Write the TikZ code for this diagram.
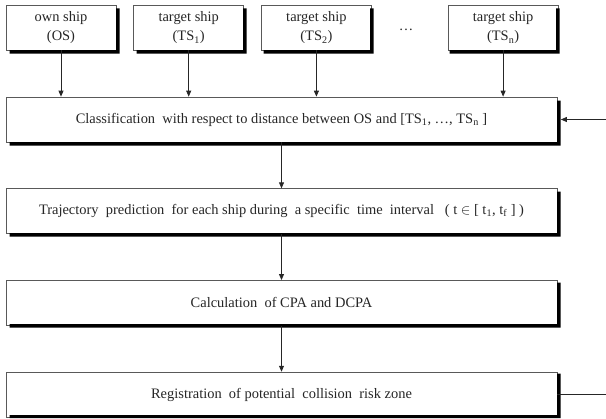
\documentclass[tikz,border=0pt]{standalone}
\usepackage{fontspec}
\setmainfont{Liberation Serif}
\usetikzlibrary{arrows.meta, positioning}

\begin{document}
\begin{tikzpicture}[x=1bp, y=1bp, node distance=46bp and 17bp]

    % Define style for different elements
    \tikzstyle{ship} = [rectangle, minimum width=110bp, minimum height=45bp, align=center, draw=black!65, line width=0.7bp, fill=white, text=black!85, font=\fontsize{14.5}{20}\selectfont]
    \tikzstyle{stage} = [rectangle, minimum width=551bp, minimum height=45bp, text centered, draw=black!65, line width=0.7bp, fill=white, text=black!85, font=\fontsize{14.5}{20}\selectfont]
    \tikzstyle{arrow} = [black!85, line width=0.8bp, ->, >={Triangle[length=6bp, width=5bp]}]

    \useasboundingbox (0,0) rectangle (606,418);

    % Place nodes
    \node (os) [ship] at (61,390.5) {own ship\\(OS)};
    \node (ts1) [ship, right=of os] {target ship\\(TS\textsubscript{1})};
    \node (ts2) [ship, right=of ts1] {target ship\\(TS\textsubscript{2})};
    \node (tsn) [ship, right=76bp of ts2] {target ship\\(TS\textsubscript{n})};
    \node (dots) [text=black!85, font=\fontsize{14.5}{20}\selectfont] at (406,388) {\ldots};
    \node (classify) [stage] at (281.5,298.5) {Classification\ \ with respect to distance between OS and [TS\textsubscript{1}, \ldots, TS\textsubscript{n} ]};
    \node (predict) [stage, below=of classify] {Trajectory\ \ prediction\ \ for each ship during\ \ a specific\ \ time\ \ interval\ \ \ ( t $\in$ [ t\textsubscript{1}, t\textsubscript{f} ] )};
    \node (cpa) [stage, below=of predict] {Calculation\ \ of CPA and DCPA};
    \node (zone) [stage, below=of cpa] {Registration\ \ of potential\ \ collision\ \ risk zone};
    \coordinate (loop) at ([xshift=60bp]zone.east);

    % Shadows on the right and bottom edges
    \foreach \r/\s/\l in {116/119.5/9.5, 243/246.5/136.5, 370/373.5/263.5, 556/559.5/449.5}
        \fill [black] (\r,364.5) rectangle (\s,409.5) (\l,364.5) rectangle (\s,368);
    \foreach \b/\c/\t in {276/272.5/317.5, 185/181.5/226.5, 94/90.5/135.5, 3/0/44.5}
        \fill [black] (557,\c) rectangle (560.5,\t) (9.5,\c) rectangle (560.5,\b);

    % Draw arrows
    \draw [arrow] (os) -- (os |- classify.north);
    \draw [arrow] (ts1) -- (ts1 |- classify.north);
    \draw [arrow] (ts2) -- (ts2 |- classify.north);
    \draw [arrow] (tsn) -- (tsn |- classify.north);
    \draw [arrow] (classify) -- (predict);
    \draw [arrow] (predict) -- (cpa);
    \draw [arrow] (cpa) -- (zone);
    \draw [arrow] (zone.east) -- (loop) |- ([xshift=3.5bp]classify.east);

\end{tikzpicture}
\end{document}
